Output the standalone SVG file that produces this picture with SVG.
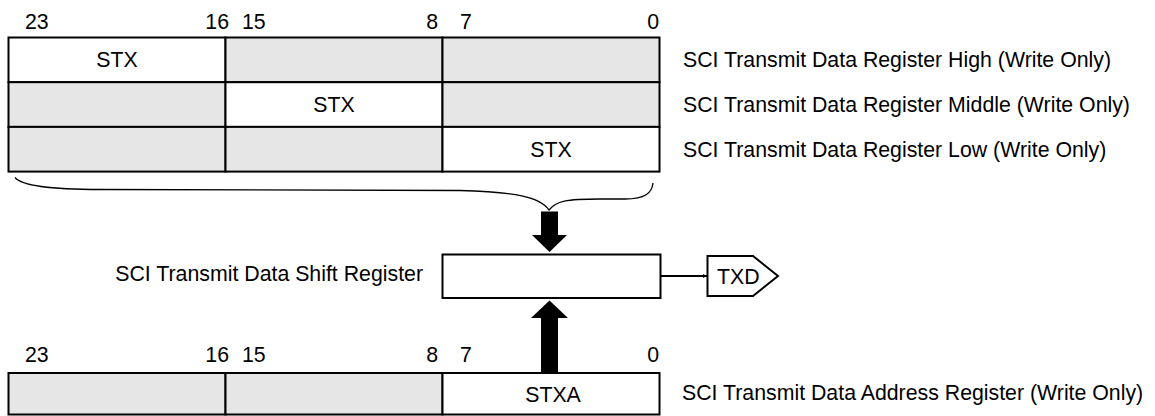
<svg xmlns="http://www.w3.org/2000/svg" width="1155" height="416" viewBox="0 0 1155 416">
<style>
text{font-family:"Liberation Sans",Arial,Helvetica,sans-serif;font-size:21.3px;fill:#000}
.c{text-anchor:middle}
.e{text-anchor:end}
.g{fill:#e6e6e6;stroke:#000;stroke-width:2}
.w{fill:#fff;stroke:#000;stroke-width:2}
.ln{fill:none;stroke:#000;stroke-width:2}
</style>
<defs>
<marker id="ah" viewBox="0 0 10 10" refX="10" refY="5" markerWidth="4" markerHeight="4" orient="auto" markerUnits="userSpaceOnUse">
<path d="M0,0 L10,5 L0,10 z" fill="#000"/>
</marker>
</defs>
<g id="top-bits">
<text x="25" y="29">23</text>
<text x="229" y="29" class="e">16</text>
<text x="242" y="29">15</text>
<text x="438" y="29" class="e">8</text>
<text x="460" y="29">7</text>
<text x="659" y="29" class="e">0</text>
</g>
<g id="stxh">
<rect x="8.5" y="37.5" width="217" height="44.7" class="w"/>
<rect x="225.5" y="37.5" width="217" height="44.7" class="g"/>
<rect x="442.5" y="37.5" width="217" height="44.7" class="g"/>
<text x="117" y="67" class="c">STX</text>
<text x="683" y="67">SCI Transmit Data Register High (Write Only)</text>
</g>
<g id="stxm">
<rect x="8.5" y="82.2" width="217" height="44.7" class="g"/>
<rect x="225.5" y="82.2" width="217" height="44.7" class="w"/>
<rect x="442.5" y="82.2" width="217" height="44.7" class="g"/>
<text x="334" y="112" class="c">STX</text>
<text x="683" y="112">SCI Transmit Data Register Middle (Write Only)</text>
</g>
<g id="stxl">
<rect x="8.5" y="126.9" width="217" height="44.7" class="g"/>
<rect x="225.5" y="126.9" width="217" height="44.7" class="g"/>
<rect x="442.5" y="126.9" width="217" height="44.7" class="w"/>
<text x="551" y="157" class="c">STX</text>
<text x="683" y="157">SCI Transmit Data Register Low (Write Only)</text>
</g>
<g id="shift">
<rect x="442.5" y="254.5" width="218" height="43.5" class="w"/>
<text x="423" y="281" class="e">SCI Transmit Data Shift Register</text>
</g>
<g id="txd">
<path d="M707.5,256 L753,256 L778,276 L753,296 L707.5,296 Z" class="w"/>
<text x="717" y="283.5">TXD</text>
</g>
<g id="bottom-bits">
<text x="25" y="362">23</text>
<text x="229" y="362" class="e">16</text>
<text x="242" y="362">15</text>
<text x="438" y="362" class="e">8</text>
<text x="460" y="362">7</text>
<text x="659" y="362" class="e">0</text>
</g>
<g id="stxa">
<rect x="8.5" y="373" width="217" height="41.5" class="g"/>
<rect x="225.5" y="373" width="217" height="41.5" class="g"/>
<rect x="442.5" y="373" width="217" height="41.5" class="w"/>
<text x="553" y="402" class="c">STXA</text>
<text x="682" y="400">SCI Transmit Data Address Register (Write Only)</text>
</g>
<g id="connectors">
<path d="M15,177.5 C22,186 50,189.5 100,189.5 L460,190.5 C515,192 540,197 549,210 C556,201 566,199 600,199 L625,199 C645,199 652,193 653,183" fill="none" stroke="#000" stroke-width="1.3"/>
<path d="M541,211.5 L558,211.5 L558,235 L567,235 L549.5,252 L532,235 L541,235 Z" fill="#000"/>
<path d="M549.5,300.5 L568,318 L558,318 L558,372 L541,372 L541,318 L531,318 Z" fill="#000"/>
<line x1="661" y1="276" x2="707" y2="276" class="ln" marker-end="url(#ah)"/>
</g>
</svg>
